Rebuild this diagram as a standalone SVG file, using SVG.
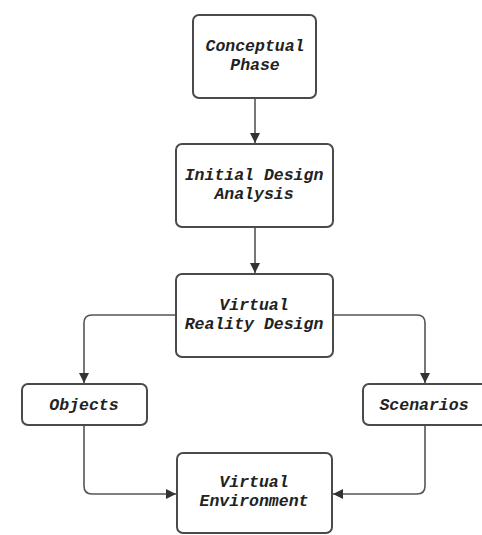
<svg xmlns="http://www.w3.org/2000/svg" width="482" height="535" viewBox="0 0 482 535">
<style>
.box{fill:#fff;stroke:#4a4a4a;stroke-width:2}
.lbl{font-family:"Liberation Mono","DejaVu Sans Mono",monospace;font-weight:bold;font-style:italic;font-size:16.5px;fill:#222;text-anchor:middle}
.edge{fill:none;stroke:#555;stroke-width:1.6}
</style>
<defs>
<marker id="ah" viewBox="0 0 10 10" refX="10" refY="5" markerWidth="10" markerHeight="10" markerUnits="userSpaceOnUse" orient="auto">
<path d="M0,0 L10,5 L0,10 z" fill="#333"/>
</marker>
</defs>
<rect width="482" height="535" fill="#fff"/>
<g id="connectors">
<path class="edge" d="M255,98 V143" marker-end="url(#ah)"/>
<path class="edge" d="M255,227 V273" marker-end="url(#ah)"/>
<path class="edge" d="M176,315 H92 Q84,315 84,323 V383" marker-end="url(#ah)"/>
<path class="edge" d="M333,315 H417 Q425,315 425,323 V383" marker-end="url(#ah)"/>
<path class="edge" d="M84,425 V486 Q84,494 92,494 H176" marker-end="url(#ah)"/>
<path class="edge" d="M425,425 V486 Q425,494 417,494 H333" marker-end="url(#ah)"/>
</g>
<g id="conceptual">
<rect class="box" x="193" y="15" width="123" height="83" rx="6"/>
<text class="lbl" x="255" y="51">Conceptual</text>
<text class="lbl" x="255" y="70">Phase</text>
</g>
<g id="initial">
<rect class="box" x="176" y="144" width="157" height="83" rx="6"/>
<text class="lbl" x="254" y="180">Initial Design</text>
<text class="lbl" x="254" y="199">Analysis</text>
</g>
<g id="vrdesign">
<rect class="box" x="176" y="274" width="157" height="83" rx="6"/>
<text class="lbl" x="254" y="310">Virtual</text>
<text class="lbl" x="254" y="329">Reality Design</text>
</g>
<g id="objects">
<rect class="box" x="22" y="384" width="125" height="41" rx="6"/>
<text class="lbl" x="84" y="410">Objects</text>
</g>
<g id="scenarios">
<rect class="box" x="363" y="384" width="124" height="41" rx="6"/>
<text class="lbl" x="424" y="410">Scenarios</text>
</g>
<g id="environment">
<rect class="box" x="177" y="453" width="155" height="80" rx="6"/>
<text class="lbl" x="254" y="487">Virtual</text>
<text class="lbl" x="254" y="506">Environment</text>
</g>
</svg>
